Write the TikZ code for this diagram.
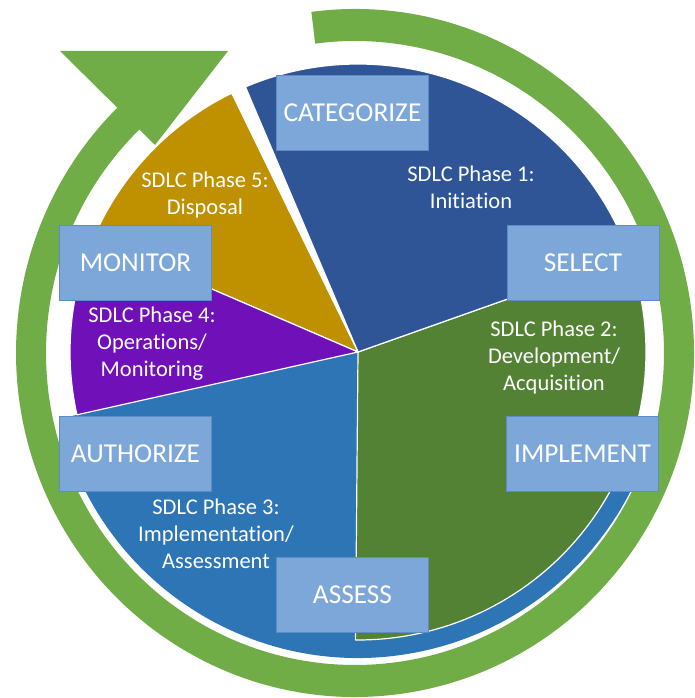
\documentclass[tikz,border=0pt]{standalone}
\usepackage{fontspec}
\setmainfont{Carlito}[Ligatures=NoCommon]

\definecolor{ringgreen}{HTML}{70AD47}
\definecolor{phaseone}{HTML}{2F5597}
\definecolor{phasetwo}{HTML}{548235}
\definecolor{phasethree}{HTML}{2E75B6}
\definecolor{phasefour}{RGB}{112,16,184}
\definecolor{phasefive}{HTML}{BF9000}
\definecolor{boxfill}{HTML}{7DA7D9}
\definecolor{boxedge}{HTML}{5B8CC8}

\tikzset{
  stepbox/.style={draw=boxedge, fill=boxfill, line width=0.8pt, minimum width=152pt,
    minimum height=75pt, inner sep=0pt, text=white, font=\fontsize{27.3}{32}\selectfont},
  phaselabel/.style={align=center, text=white, inner sep=0pt, font=\fontsize{22.5}{27}\selectfont},
  slice/.style={draw=white, line width=1.2pt, line join=round}
}

\begin{document}
\begin{tikzpicture}[x=1pt, y=1pt]
    \useasboundingbox (0,0) rectangle (694,698);

    % Define the centers of the pie and of the green ring
    \coordinate (O) at (358,346);
    \coordinate (R) at (355,345);

    % Draw the green ring
    \fill[ringgreen, shift={(R)}] (97.4:339 and 344)
        arc[start angle=97.4, end angle=-226.5, x radius=339, y radius=344]
        -- (-226.5:309 and 312)
        arc[start angle=-226.5, end angle=97.4, x radius=309, y radius=312] -- cycle;

    % Draw the arrow head of the ring
    \fill[ringgreen] (60,647) -- (228,647) -- (155,553) -- cycle;

    % Draw the phase 3 slice, a bit larger than the others
    \fill[phasethree] (O) -- ++(192.6:306) arc[start angle=192.6, end angle=340, radius=306] -- cycle;

    % Draw the other slices
    \filldraw[slice, fill=phasetwo] (O) -- ++(-90.5:288) arc[start angle=-90.5, end angle=19.5, radius=288] -- cycle;
    \filldraw[slice, fill=phaseone] (O) -- ++(19.5:288) arc[start angle=19.5, end angle=113, radius=288] -- cycle;
    \filldraw[slice, fill=phasefive] (O) -- ++(116:288) arc[start angle=116, end angle=156.7, radius=288] -- cycle;
    \filldraw[slice, fill=phasefour] (O) -- ++(156.7:288) arc[start angle=156.7, end angle=192.6, radius=288] -- cycle;

    % Add the phase labels
    \node[phaselabel] (initiation) at (471,511) {SDLC Phase 1:\\Initiation};
    \node[phaselabel] (acquisition) at (554,340) {SDLC Phase 2:\\Development/\\Acquisition};
    \node[phaselabel] (assessment) at (216,164) {SDLC Phase 3:\\Implementation/\\Assessment};
    \node[phaselabel] (operations) at (152,354) {SDLC Phase 4:\\Operations/\\Monitoring};
    \node[phaselabel] (disposal) at (205,503) {SDLC Phase 5:\\Disposal};

    % Add the step boxes
    \node[stepbox] (categorize) at (352.5,585.5) {CATEGORIZE};
    \node[stepbox] (select) at (583,435) {SELECT};
    \node[stepbox] (implement) at (582.5,244.5) {IMPLEMENT};
    \node[stepbox] (assess) at (352.5,103.5) {ASSESS};
    \node[stepbox] (authorize) at (135.5,244) {AUTHORIZE};
    \node[stepbox] (monitor) at (135.5,435.5) {MONITOR};

\end{tikzpicture}
\end{document}
